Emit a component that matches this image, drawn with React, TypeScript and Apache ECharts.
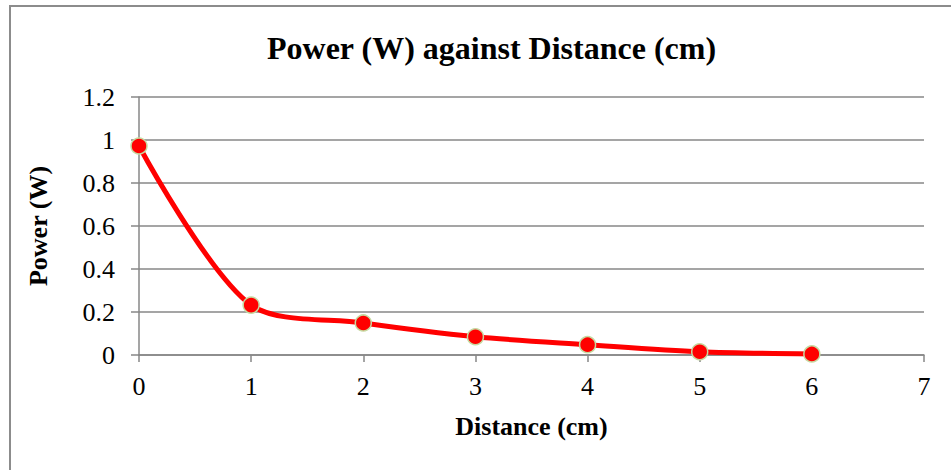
import React, { useEffect, useRef } from "react";
import * as echarts from "echarts";

const distances = [0, 1, 2, 3, 4, 5, 6];
const powers = [0.972, 0.232, 0.149, 0.085, 0.048, 0.015, 0.005];
const titleText = "Power (W) against Distance (cm)";
const xName = "Distance (cm)";
const yName = "Power (W)";

const FONT = "'Liberation Serif', 'Times New Roman', serif";
const GRID_COLOR = "#878787";

export default function App() {
  const ref = useRef<HTMLDivElement>(null);
  useEffect(() => {
    if (!ref.current) return;
    const chart = echarts.init(ref.current, null, { renderer: "svg" });
    chart.setOption({
      animation: false,
      backgroundColor: "#ffffff",
      title: {
        text: titleText,
        left: 262,
        top: 27,
        textStyle: { fontFamily: FONT, fontSize: 32, fontWeight: "bold", color: "#000" },
      },
      graphic: [
        {
          type: "rect",
          shape: { x: 10, y: 6, width: 1000, height: 1000 },
          style: { fill: "none", stroke: "#8c8c8c", lineWidth: 2 },
          silent: true,
        },
      ],
      grid: { left: 139, top: 97, width: 785, height: 258, containLabel: false },
      xAxis: {
        type: "value",
        min: 0,
        max: 7,
        interval: 1,
        name: xName,
        nameLocation: "middle",
        nameGap: 58,
        nameTextStyle: { fontFamily: FONT, fontSize: 26, fontWeight: "bold", color: "#000" },
        axisLine: { show: true, lineStyle: { color: GRID_COLOR, width: 1.5 } },
        axisTick: { show: true, length: 7, lineStyle: { color: GRID_COLOR, width: 1.5 } },
        axisLabel: { fontFamily: FONT, fontSize: 26, color: "#000", margin: 18 },
        splitLine: { show: false },
      },
      yAxis: {
        type: "value",
        min: 0,
        max: 1.2,
        interval: 0.2,
        name: yName,
        nameLocation: "middle",
        nameGap: 88,
        nameTextStyle: { fontFamily: FONT, fontSize: 26, fontWeight: "bold", color: "#000" },
        axisLine: { show: true, onZero: false, lineStyle: { color: GRID_COLOR, width: 1.5 } },
        axisTick: { show: true, length: 8, lineStyle: { color: GRID_COLOR, width: 1.5 } },
        axisLabel: {
          fontFamily: FONT,
          fontSize: 26,
          color: "#000",
          margin: 24,
          formatter: (v: number) => String(Math.round(v * 10) / 10),
        },
        splitLine: { show: true, lineStyle: { color: GRID_COLOR, width: 1.5 } },
      },
      series: [
        {
          type: "line",
          data: distances.map((d, i) => [d, powers[i]]),
          smooth: 0.3,
          symbol: "circle",
          symbolSize: 16,
          lineStyle: { color: "#ff0000", width: 5 },
          itemStyle: { color: "#ff0000", borderColor: "#c6d9a0", borderWidth: 1.5 },
          z: 3,
        },
      ],
    });
    return () => chart.dispose();
  }, []);
  return (
    <div
      ref={ref}
      style={{ position: "absolute", left: 0, top: 0, width: 951, height: 470 }}
    />
  );
}
